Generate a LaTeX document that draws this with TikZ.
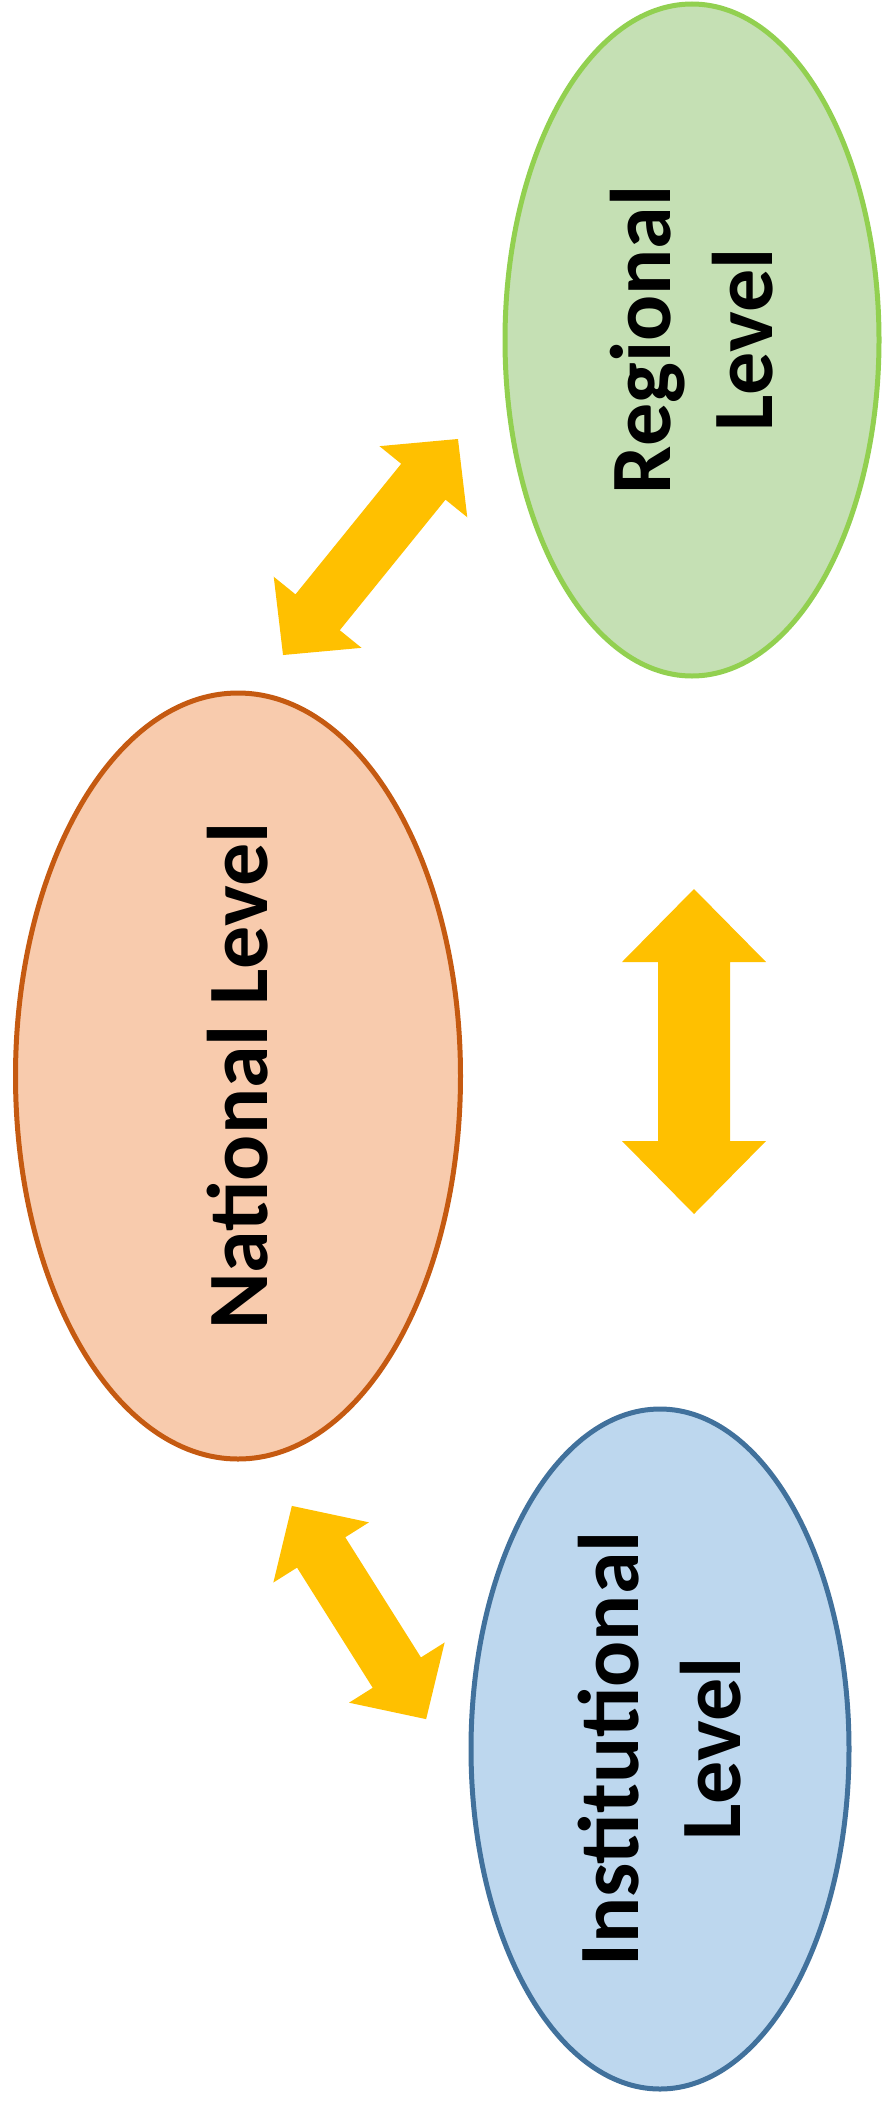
\documentclass[tikz,border=0pt]{standalone}
\usepackage{fontspec}
\setmainfont{Carlito}
\usetikzlibrary{shapes.geometric}
\definecolor{regfill}{HTML}{C5E0B4}
\definecolor{regdraw}{HTML}{92D050}
\definecolor{natfill}{HTML}{F8CBAD}
\definecolor{natdraw}{HTML}{C55A11}
\definecolor{insfill}{HTML}{BDD7EE}
\definecolor{insdraw}{HTML}{41719C}
\definecolor{arrowc}{HTML}{FFC000}
\newcommand{\dblarr}[7]{%
  \begin{scope}[shift={(#1,#2)}, rotate=#3]
    \fill[arrowc] ({-#4/2},0) -- ({-#4/2+#7},{#6/2}) -- ({-#4/2+#7},{#5/2}) -- ({#4/2-#7},{#5/2}) -- ({#4/2-#7},{#6/2}) -- ({#4/2},0) -- ({#4/2-#7},{-#6/2}) -- ({#4/2-#7},{-#5/2}) -- ({-#4/2+#7},{-#5/2}) -- ({-#4/2+#7},{-#6/2}) -- cycle;
  \end{scope}}
\begin{document}
\begin{tikzpicture}[x=1pt,y=-1pt,
  level/.style={ellipse, line width=5pt, inner sep=0pt},
  lbl/.style={rotate=90, align=center, inner sep=0pt,
    font=\bfseries\fontsize{86}{102}\selectfont}]
\useasboundingbox (0,0) rectangle (885,2101);
\node[level, draw=regdraw, fill=regfill, minimum width=374pt, minimum height=672pt] (reg) at (692,340) {};
\node[level, draw=natdraw, fill=natfill, minimum width=445pt, minimum height=766pt] (nat) at (238,1076) {};
\node[level, draw=insdraw, fill=insfill, minimum width=378pt, minimum height=680pt] (ins) at (660,1749) {};
\node[lbl] (regt) at (reg) {Regional\\Level};
\node[lbl] (natt) at (nat) {National Level};
\node[lbl] (inst) at (ins) {Institutional\\Level};
\dblarr{370.5}{547}{51}{278}{57}{113}{55}
\dblarr{694}{1051.5}{90}{325}{72}{144}{73}
\dblarr{359}{1612.5}{-57.8}{252}{57}{113}{55}
\end{tikzpicture}
\end{document}
